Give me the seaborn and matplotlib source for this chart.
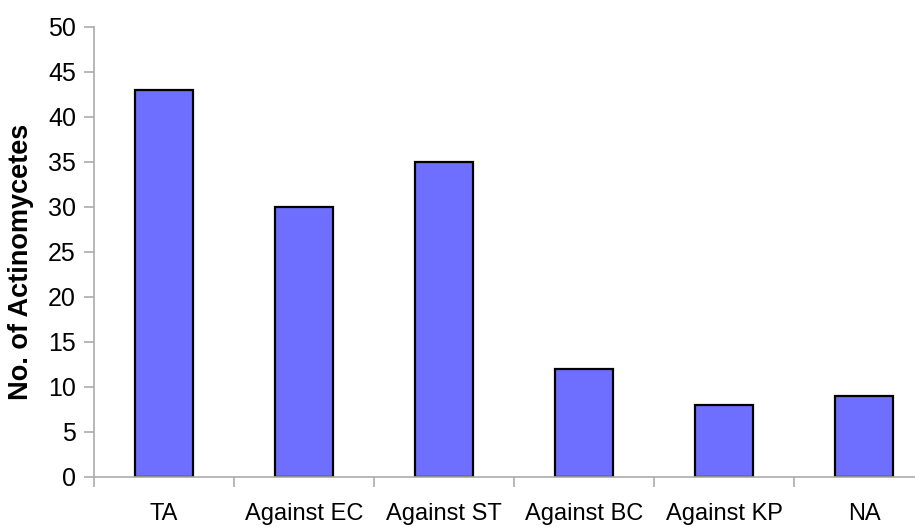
import matplotlib
matplotlib.use("Agg")
import matplotlib.pyplot as plt
import seaborn as sns
import pandas as pd
import numpy as np

categories = ["TA", "Against EC", "Against ST", "Against BC", "Against KP", "NA"]
counts = [43, 30, 35, 12, 8, 9]
y_ticks = [0, 5, 10, 15, 20, 25, 30, 35, 40, 45, 50]

sns.set_style("white")
plt.rcParams["font.family"] = ["Liberation Sans", "DejaVu Sans"]
plt.rcParams["text.color"] = "black"
plt.rcParams["axes.labelcolor"] = "black"
plt.rcParams["xtick.labelcolor"] = "black"
plt.rcParams["ytick.labelcolor"] = "black"

df = pd.DataFrame({"group": categories, "count": counts})

fig = plt.figure(figsize=(9.15, 5.27), dpi=100)
ax = fig.add_axes([0.1027, 0.0949, 0.918, 0.854])

sns.barplot(data=df, x="group", y="count", ax=ax, color="#6F6FFF",
            saturation=1, width=0.41, edgecolor="black", linewidth=1.6)

axis_grey = "#ABABAB"
ax.set_ylim(0, 50)
ax.set_xlim(-0.5, len(categories) - 0.5)
ax.set_yticks(y_ticks)
ax.set_yticklabels([str(v) for v in y_ticks], fontsize=18)

ax.set_xticks(np.arange(len(categories)))
ax.set_xticklabels(categories, fontsize=17)
ax.set_xticks(np.arange(len(categories) + 1) - 0.5, minor=True)
ax.tick_params(axis="x", which="major", length=0, pad=19, labelcolor="black")
ax.tick_params(axis="x", which="minor", length=7, width=1.2, color=axis_grey,
               direction="out", bottom=True)
ax.tick_params(axis="y", length=7, width=1.2, color=axis_grey, direction="out",
               left=True, pad=6, labelcolor="black")

for side in ("top", "right"):
    ax.spines[side].set_visible(False)
for side in ("left", "bottom"):
    ax.spines[side].set_color(axis_grey)
    ax.spines[side].set_linewidth(1.2)

ax.set_xlabel("")
ax.set_ylabel("No. of Actinomycetes", fontsize=19.5, fontweight="bold", color="black")
ax.yaxis.set_label_coords(-0.071, 0.478)

fig.savefig("out.png", dpi=100)
